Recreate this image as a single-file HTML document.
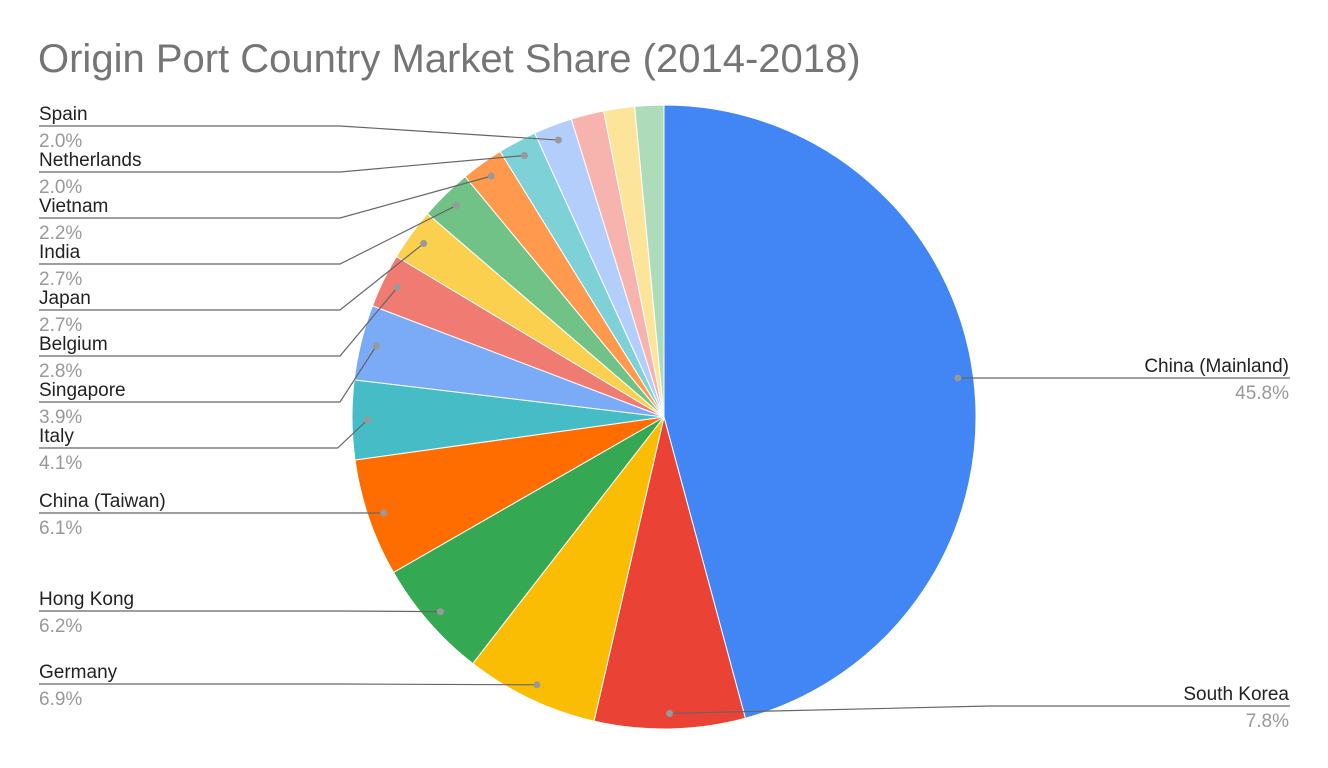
<!DOCTYPE html>
<html><head><meta charset="utf-8"><style>
body{margin:0;background:#fff;}
svg{display:block;font-family:"Liberation Sans",Arial,sans-serif;}
</style></head><body>
<svg id="chart" width="1328" height="768">
<text x="38" y="72" font-size="40" fill="#757575">Origin Port Country Market Share (2014-2018)</text>
<g id="slices"></g><g id="labels"></g>
</svg>
<script>
const categories=["China (Mainland)","South Korea","Germany","Hong Kong","China (Taiwan)","Italy","Singapore","Belgium","Japan","India","Vietnam","Netherlands","Spain","Other A","Other B","Other C"];
const values=[45.8,7.8,6.9,6.2,6.1,4.1,3.9,2.8,2.7,2.7,2.2,2.0,2.0,1.7,1.6,1.5];
const percentLabels=["45.8%","7.8%","6.9%","6.2%","6.1%","4.1%","3.9%","2.8%","2.7%","2.7%","2.2%","2.0%","2.0%","","",""];
const colors=["#4285F4","#EA4335","#FBBC04","#34A853","#FF6D01","#46BDC6","#7BAAF7","#F07B72","#FCD04F","#71C287","#FF994D","#7ED1D7","#B3CEFB","#F7B4AE","#FDE49B","#AEDCBA"];
const labelY=[378,706,684,611,513,448,402,356,310,264,218,172,126,null,null,null];
const cx=664,cy=417,R=312;
const NS="http://www.w3.org/2000/svg";
const total=values.reduce((a,b)=>a+b,0);
const gS=document.getElementById('slices'),gL=document.getElementById('labels');
function pt(a,r){return [cx+r*Math.sin(a),cy-r*Math.cos(a)];}
let acc=0;
values.forEach((v,i)=>{
  const a0=acc/total*2*Math.PI;acc+=v;const a1=acc/total*2*Math.PI;
  const p0=pt(a0,R),p1=pt(a1,R);
  const p=document.createElementNS(NS,'path');
  p.setAttribute('d',`M${cx},${cy}L${p0[0]},${p0[1]}A${R},${R} 0 ${a1-a0>Math.PI?1:0} 1 ${p1[0]},${p1[1]}Z`);
  p.setAttribute('fill',colors[i]);p.setAttribute('stroke','#fff');p.setAttribute('stroke-width','1');
  
  
  gS.appendChild(p);
  if(labelY[i]===null)return;
  const am=(a0+a1)/2,d=pt(am,R*0.95),ly=labelY[i];
  const right=d[0]>cx;
  const line=document.createElementNS(NS,'polyline');
  let pts;
  if(right){const bx=Math.max(d[0]+30,990);pts=`${d[0]},${d[1]} ${bx},${ly} 1290,${ly}`;}
  else{const bx=Math.min(d[0]-30,340);pts=`${d[0]},${d[1]} ${bx},${ly} 39,${ly}`;}
  line.setAttribute('points',pts);line.setAttribute('fill','none');line.setAttribute('stroke','#666');line.setAttribute('stroke-width','1.2');
  
  
  gL.appendChild(line);
  const c=document.createElementNS(NS,'circle');
  c.setAttribute('cx',d[0]);c.setAttribute('cy',d[1]);c.setAttribute('r','3.5');c.setAttribute('fill','#999');
  
  
  gL.appendChild(c);
  const t=document.createElementNS(NS,'text');
  t.setAttribute('x',right?1289:39);t.setAttribute('y',ly-6);t.setAttribute('font-size','19');t.setAttribute('fill','#222');
  if(right)t.setAttribute('text-anchor','end');
  t.textContent=categories[i];
  
  
  gL.appendChild(t);
  const t2=document.createElementNS(NS,'text');
  t2.setAttribute('x',right?1289:39);t2.setAttribute('y',ly+21);t2.setAttribute('font-size','19');t2.setAttribute('fill','#999');
  if(right)t2.setAttribute('text-anchor','end');
  t2.textContent=percentLabels[i];
  
  
  gL.appendChild(t2);
});
</script>
</body></html>
